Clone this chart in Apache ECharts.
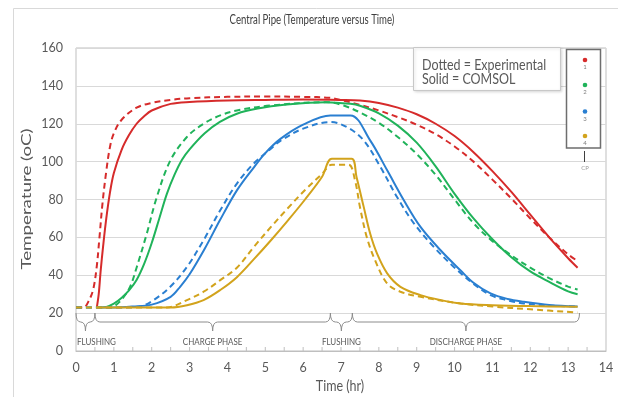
<!DOCTYPE html>
<html>
<head>
<meta charset="utf-8">
<script src="https://cdn.jsdelivr.net/npm/echarts@6/dist/echarts.min.js"></script>
<style>
  html, body { margin: 0; padding: 0; background: #fff; }
  #chart { width: 618px; height: 397px; }
</style>
</head>
<body>
<div id="chart"></div>
<script>
// time (hr), temperature (oC)
var redSolid = [[0.55, 23], [0.6, 30], [0.65, 42], [0.72, 56], [0.8, 70], [0.9, 84], [1.0, 94], [1.2, 106],
  [1.4, 114], [1.6, 120], [1.8, 124], [2.0, 127], [2.5, 130.5], [3.0, 131.5], [4.0, 132.3], [5.0, 132.6],
  [6.0, 132.8], [7.0, 132.6], [7.5, 132.3], [8.0, 131], [8.5, 128.5], [9.0, 125], [9.5, 120], [10.0, 113.5],
  [10.5, 105], [11.0, 95], [11.5, 84], [12.0, 72], [12.5, 60], [13.0, 49], [13.25, 44]];
var redExp = [[0, 23], [0.2, 23], [0.35, 27], [0.46, 33], [0.55, 45], [0.62, 60], [0.7, 78], [0.8, 95],
  [0.9, 108], [1.0, 115], [1.2, 122], [1.6, 128.5], [2.0, 131], [2.5, 132.6], [3.0, 133.5], [4.0, 134.2],
  [5.0, 134.4], [6.0, 134.2], [6.7, 133.7], [7.0, 132.5], [7.5, 130], [8.0, 127], [8.5, 123.5],
  [9.0, 119.5], [9.5, 114.5], [10.0, 108], [10.5, 100], [11.0, 90.5], [11.5, 80.5], [12.0, 70],
  [12.5, 60], [13.0, 51], [13.25, 47.5]];

var greenSolid = [[0.55, 23], [0.8, 23.3], [1.0, 25], [1.2, 28], [1.4, 32], [1.6, 37.5], [1.8, 46], [2.0, 57],
  [2.2, 70], [2.4, 83], [2.6, 93], [2.8, 101], [3.0, 106.5], [3.4, 115], [3.8, 121], [4.25, 125.3],
  [4.8, 128], [5.5, 130], [6.6, 131.4], [7.25, 130.5], [7.5, 129.5], [8.0, 125.5], [8.5, 119], [9.0, 110],
  [9.5, 97.5], [10.0, 83], [10.5, 70], [11.0, 59], [11.5, 49.5], [12.0, 42], [12.5, 36.5], [13.0, 31.5],
  [13.25, 30]];
var greenExp = [[0, 23], [0.9, 23], [1.0, 23.5], [1.2, 27], [1.43, 34], [1.6, 44], [1.87, 62], [2.13, 81],
  [2.49, 100.5], [2.93, 113], [3.37, 120], [3.81, 124.4], [4.25, 127], [5.13, 129.6], [6.63, 131.4],
  [7.07, 129.6], [7.5, 126], [8.0, 120.5], [8.5, 113], [9.0, 104], [9.5, 93], [10.0, 80], [10.5, 67.5],
  [11.0, 58], [11.5, 50.5], [12.0, 44], [12.5, 38.5], [13.0, 34], [13.25, 32.5]];

var blueSolid = [[0.55, 23], [1.0, 23], [1.5, 23.5], [2.0, 24.5], [2.5, 28.6], [2.75, 33.9], [3.0, 40.5],
  [3.4, 54], [3.8, 69], [4.25, 84.8], [4.7, 97], [5.0, 104.5], [5.4, 112], [6.0, 119.5], [6.72, 124.4],
  [7.25, 124.4], [7.77, 111.2], [8.22, 95.4], [8.66, 79.6], [9.1, 65.5], [9.63, 53.2], [10.16, 42.5],
  [10.5, 36], [10.95, 30.4], [11.4, 27.5], [11.83, 26], [12.5, 24.3], [13.25, 23.5]];
var blueExp = [[0, 23], [1.3, 23], [1.7, 23.5], [2.05, 26.9], [2.49, 33.9], [2.93, 44.4], [3.37, 58.5],
  [3.81, 74.3], [4.25, 88.4], [4.69, 98.9], [5.13, 106.5], [5.4, 111], [6.0, 117.4], [6.72, 120.9],
  [7.16, 118.2], [7.6, 111.2], [8.04, 97.2], [8.48, 81.3], [8.93, 67.3], [9.45, 55], [9.98, 44.4],
  [10.5, 35.5], [10.95, 29.5], [11.4, 26.8], [11.83, 25.1], [12.5, 24], [13.25, 23.5]];

var goldSolid = [[0.55, 23], [2.5, 23], [2.93, 24.2], [3.37, 26.9], [3.81, 32.2], [4.25, 39], [4.7, 48.5],
  [5.15, 58.5], [5.6, 69], [6.05, 80], [6.5, 92], [6.76, 101.5], [7.28, 101.5], [7.41, 91.9],
  [7.6, 76.1], [7.77, 62], [7.95, 51.5], [8.22, 41], [8.57, 33.9], [9.1, 29.5], [9.63, 26.9], [10.16, 25.1],
  [11.0, 24.2], [12.0, 23.7], [13.25, 23.4]];
var goldExp = [[0, 23], [2.4, 23], [2.93, 26.9], [3.37, 31.3], [3.81, 37.4], [4.25, 44], [4.7, 55],
  [5.15, 65.5], [5.6, 75.5], [6.05, 85], [6.5, 93.5], [6.76, 98.4], [7.2, 98.4], [7.37, 90.1],
  [7.5, 76.1], [7.68, 60.2], [7.9, 47.9], [8.22, 35.6], [8.57, 31.3], [9.1, 28.6], [10.16, 25.1],
  [11.0, 23.5], [12.0, 22], [13.25, 20.3]];

var phases = [
  { name: 'FLUSHING', from: 0, to: 0.5, align: 'left' },
  { name: 'CHARGE PHASE', from: 0.5, to: 6.72, align: 'center' },
  { name: 'FLUSHING', from: 6.72, to: 7.3, align: 'center' },
  { name: 'DISCHARGE PHASE', from: 7.3, to: 13.3, align: 'center' }
];
var probes = ['1', '2', '3', '4'];

var colors = ['#d62b2b', '#20b35a', '#2a7fd1', '#d2a31c'];
var font = 'Lato, "Open Sans", sans-serif';
var gray = '#595959';

var chart = echarts.init(document.getElementById('chart'));

function line(name, data, color, dashed) {
  return {
    name: name,
    type: 'line',
    data: data,
    showSymbol: false,
    smooth: 0.35,
    animation: false,
    lineStyle: { color: color, width: 2, type: dashed ? [6, 4] : 'solid' },
    itemStyle: { color: color }
  };
}

var option = {
  animation: false,
  grid: { left: 76, right: 12, top: 48, bottom: 46, show: true, borderColor: '#bfbfbf', borderWidth: 1 },
  xAxis: {
    type: 'value', min: 0, max: 14, interval: 1,
    axisLine: { lineStyle: { color: '#bfbfbf' } },
    axisTick: { show: false },
    axisLabel: { fontFamily: font, fontSize: 12.5, color: gray, margin: 10 },
    splitLine: { show: false }
  },
  yAxis: {
    type: 'value', min: 0, max: 160, interval: 20,
    axisLine: { show: false }, axisTick: { show: false },
    axisLabel: { fontFamily: font, fontSize: 12.5, color: gray, margin: 13 },
    splitLine: { lineStyle: { color: '#d9d9d9' } }
  },
  series: [
    line('1 COMSOL', redSolid, colors[0], false),
    line('1 Experimental', redExp, colors[0], true),
    line('2 COMSOL', greenSolid, colors[1], false),
    line('2 Experimental', greenExp, colors[1], true),
    line('3 COMSOL', blueSolid, colors[2], false),
    line('3 Experimental', blueExp, colors[2], true),
    line('4 COMSOL', goldSolid, colors[3], false),
    line('4 Experimental', goldExp, colors[3], true)
  ]
};
chart.setOption(option);

// annotations: titles, phase braces, ticks, note box and probe inset
function px(x, y) { return chart.convertToPixel({ gridIndex: 0 }, [x, y]); }
var g = [];
g.push({ type: 'rect', z: -10, shape: { x: 13.5, y: 8.5, width: 700, height: 500 },
  style: { fill: 'none', stroke: '#d9d9d9', lineWidth: 1 } });

// the picture is stretched vertically, so the texts are too
g.push({ type: 'text', x: 312, y: 20, scaleY: 1.3,
  style: { text: 'Central Pipe (Temperature versus Time)', font: '9.6px ' + font, fill: '#404040',
    align: 'center', verticalAlign: 'middle' } });
g.push({ type: 'text', x: 340, y: 386, scaleY: 1.25,
  style: { text: 'Time (hr)', font: '12.5px ' + font, fill: gray, align: 'center', verticalAlign: 'middle' } });
g.push({ type: 'text', x: 27, y: 199, rotation: Math.PI / 2, scaleX: 1.5,
  style: { text: 'Temperature (oC)', font: '12.5px ' + font, fill: gray, align: 'center', verticalAlign: 'middle' } });

var yTop = 313, yLine = 322, yCusp = 331, yText = 342;
var br = { stroke: '#8c8c8c', lineWidth: 1, fill: 'none' };
phases.forEach(function (p) {
  var x0 = px(p.from, 0)[0], x1 = px(p.to, 0)[0], xm = (x0 + x1) / 2;
  var r = Math.min(5, (x1 - x0) / 4);
  g.push({ type: 'bezierCurve', shape: { x1: x0, y1: yTop, cpx1: x0, cpy1: yLine, x2: x0 + r, y2: yLine }, style: br });
  g.push({ type: 'line', shape: { x1: x0 + r, y1: yLine, x2: xm - r, y2: yLine }, style: br });
  g.push({ type: 'bezierCurve', shape: { x1: xm - r, y1: yLine, cpx1: xm, cpy1: yLine, x2: xm, y2: yCusp }, style: br });
  g.push({ type: 'bezierCurve', shape: { x1: xm, y1: yCusp, cpx1: xm, cpy1: yLine, x2: xm + r, y2: yLine }, style: br });
  g.push({ type: 'line', shape: { x1: xm + r, y1: yLine, x2: x1 - r, y2: yLine }, style: br });
  g.push({ type: 'bezierCurve', shape: { x1: x1 - r, y1: yLine, cpx1: x1, cpy1: yLine, x2: x1, y2: yTop }, style: br });
  g.push({ type: 'text', x: p.align === 'left' ? x0 + 1 : xm, y: yText, scaleY: 1.2,
    style: { text: p.name, font: '8px ' + font, fill: gray, align: p.align, verticalAlign: 'middle' } });
});

// small upward ticks on the time axis every half hour
for (var t = 0.5; t < 14; t += 0.5) {
  var p0 = px(t, 0);
  g.push({ type: 'line', shape: { x1: p0[0], y1: p0[1], x2: p0[0], y2: p0[1] - 4 },
    style: { stroke: '#bfbfbf', lineWidth: 1 } });
}

g.push({ type: 'rect', shape: { x: 413.5, y: 47.5, width: 147, height: 43 },
  style: { fill: '#fff', stroke: '#c8c8c8', lineWidth: 1, shadowBlur: 3, shadowColor: 'rgba(0,0,0,0.15)', shadowOffsetX: 1, shadowOffsetY: 1 } });
g.push({ type: 'text', x: 422, y: 65.5, scaleY: 1.15,
  style: { text: 'Dotted = Experimental', font: '12.5px ' + font, fill: gray, verticalAlign: 'middle' } });
g.push({ type: 'text', x: 422, y: 79.5, scaleY: 1.15,
  style: { text: 'Solid = COMSOL', font: '12.5px ' + font, fill: gray, verticalAlign: 'middle' } });

g.push({ type: 'rect', shape: { x: 566.5, y: 49.5, width: 34, height: 98.5 },
  style: { fill: '#fff', stroke: '#6e6e6e', lineWidth: 1.5 } });
var dotY = [60, 85, 111.5, 136];
probes.forEach(function (n, i) {
  g.push({ type: 'circle', shape: { cx: 585, cy: dotY[i], r: 2.3 }, style: { fill: colors[i] } });
  g.push({ type: 'text', x: 585, y: dotY[i] + 7.5,
    style: { text: n, font: '6px ' + font, fill: '#7f7f7f', align: 'center', verticalAlign: 'middle' } });
});
g.push({ type: 'line', shape: { x1: 584.5, y1: 151, x2: 584.5, y2: 162 }, style: { stroke: '#404040', lineWidth: 1 } });
g.push({ type: 'text', x: 585, y: 168.5,
  style: { text: 'CP', font: '6px ' + font, fill: '#9a9a9a', align: 'center', verticalAlign: 'middle' } });

chart.setOption({ graphic: g });
</script>
</body>
</html>
